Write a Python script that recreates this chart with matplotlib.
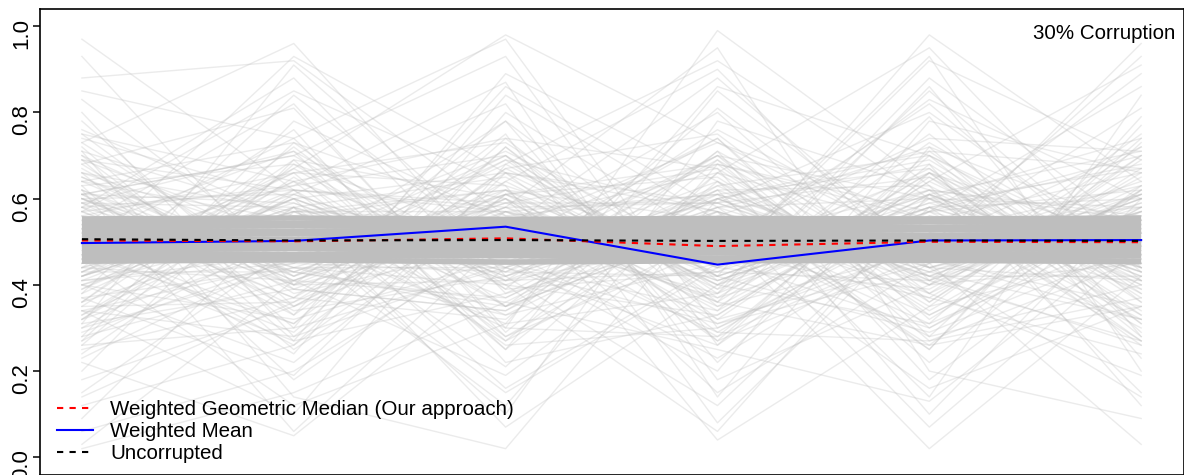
import matplotlib
matplotlib.use("Agg")
import matplotlib.pyplot as plt

plt.rcParams['font.family'] = ['Liberation Sans', 'DejaVu Sans']

# позиции по оси x (6 точек)
steps = [1, 2, 3, 4, 5, 6]

# испорченные (случайные) траектории, разброс по всему [0, 1]
wide_runs = [
    [0.97, 0.62, 0.35, 0.71, 0.18, 0.55],
    [0.93, 0.40, 0.78, 0.22, 0.66, 0.31],
    [0.88, 0.92, 0.56, 0.47, 0.83, 0.60],
    [0.85, 0.74, 0.97, 0.30, 0.52, 0.89],
    [0.80, 0.28, 0.64, 0.90, 0.41, 0.72],
    [0.76, 0.55, 0.21, 0.66, 0.95, 0.44],
    [0.73, 0.96, 0.42, 0.12, 0.58, 0.27],
    [0.70, 0.33, 0.86, 0.58, 0.25, 0.79],
    [0.68, 0.81, 0.30, 0.99, 0.63, 0.15],
    [0.65, 0.45, 0.70, 0.38, 0.88, 0.52],
    [0.63, 0.18, 0.52, 0.80, 0.36, 0.67],
    [0.61, 0.70, 0.93, 0.26, 0.71, 0.38],
    [0.58, 0.88, 0.38, 0.62, 0.14, 0.84],
    [0.56, 0.37, 0.75, 0.08, 0.56, 0.46],
    [0.42, 0.66, 0.25, 0.85, 0.47, 0.96],
    [0.40, 0.22, 0.61, 0.34, 0.79, 0.23],
    [0.38, 0.84, 0.47, 0.70, 0.30, 0.58],
    [0.36, 0.52, 0.15, 0.44, 0.92, 0.69],
    [0.34, 0.10, 0.68, 0.92, 0.60, 0.33],
    [0.32, 0.61, 0.82, 0.18, 0.40, 0.75],
    [0.30, 0.44, 0.33, 0.57, 0.07, 0.49],
    [0.28, 0.78, 0.55, 0.28, 0.68, 0.12],
    [0.26, 0.30, 0.89, 0.64, 0.22, 0.62],
    [0.24, 0.58, 0.07, 0.40, 0.75, 0.36],
    [0.22, 0.05, 0.44, 0.76, 0.50, 0.81],
    [0.20, 0.69, 0.27, 0.52, 0.02, 0.42],
    [0.18, 0.35, 0.60, 0.15, 0.45, 0.03],
    [0.15, 0.49, 0.12, 0.68, 0.33, 0.57],
    [0.12, 0.26, 0.72, 0.36, 0.86, 0.28],
    [0.09, 0.57, 0.40, 0.06, 0.61, 0.71],
    [0.06, 0.20, 0.50, 0.74, 0.28, 0.40],
    [0.03, 0.41, 0.19, 0.55, 0.38, 0.19],
    [0.02, 0.15, 0.36, 0.25, 0.13, 0.52],
    [0.47, 0.93, 0.66, 0.42, 0.98, 0.64],
    [0.71, 0.14, 0.02, 0.60, 0.42, 0.26],
    [0.60, 0.39, 0.58, 0.95, 0.20, 0.09],
    [0.44, 0.76, 0.22, 0.33, 0.64, 0.91],
    [0.53, 0.24, 0.80, 0.50, 0.16, 0.35],
    [0.66, 0.50, 0.46, 0.20, 0.78, 0.66],
    [0.35, 0.67, 0.98, 0.73, 0.55, 0.30],
    [0.46, 0.12, 0.31, 0.86, 0.70, 0.47],
    [0.57, 0.85, 0.63, 0.04, 0.35, 0.70],
    [0.39, 0.60, 0.16, 0.45, 0.93, 0.20],
    [0.50, 0.31, 0.74, 0.67, 0.10, 0.60],
    [0.62, 0.06, 0.51, 0.29, 0.57, 0.86],
    [0.27, 0.73, 0.39, 0.81, 0.44, 0.14],
    [0.83, 0.46, 0.69, 0.37, 0.66, 0.50],
    [0.14, 0.36, 0.57, 0.61, 0.25, 0.77],
    [0.75, 0.64, 0.28, 0.49, 0.82, 0.41],
    [0.31, 0.91, 0.48, 0.23, 0.52, 0.63],
    [0.69, 0.27, 0.84, 0.55, 0.37, 0.24],
    [0.45, 0.53, 0.10, 0.78, 0.62, 0.55],
    [0.59, 0.71, 0.44, 0.31, 0.49, 0.93],
    [0.37, 0.19, 0.66, 0.59, 0.80, 0.45],
    [0.54, 0.82, 0.29, 0.69, 0.27, 0.37],
    [0.23, 0.47, 0.78, 0.41, 0.58, 0.68],
    [0.78, 0.35, 0.53, 0.88, 0.46, 0.32],
    [0.49, 0.63, 0.87, 0.14, 0.72, 0.53],
    [0.64, 0.43, 0.35, 0.53, 0.31, 0.74],
    [0.33, 0.56, 0.62, 0.39, 0.85, 0.43],
]

# траектории со средним разбросом
mid_runs = [
    [0.62, 0.41, 0.58, 0.36, 0.66, 0.44],
    [0.38, 0.60, 0.43, 0.69, 0.40, 0.63],
    [0.66, 0.57, 0.37, 0.61, 0.46, 0.35],
    [0.34, 0.45, 0.68, 0.42, 0.59, 0.67],
    [0.59, 0.35, 0.62, 0.55, 0.33, 0.58],
    [0.43, 0.67, 0.40, 0.33, 0.64, 0.41],
    [0.70, 0.48, 0.55, 0.66, 0.38, 0.61],
    [0.31, 0.39, 0.34, 0.58, 0.68, 0.37],
    [0.57, 0.63, 0.70, 0.39, 0.57, 0.70],
    [0.40, 0.32, 0.46, 0.64, 0.35, 0.47],
    [0.64, 0.55, 0.33, 0.45, 0.62, 0.56],
    [0.36, 0.69, 0.60, 0.31, 0.43, 0.32],
    [0.68, 0.38, 0.49, 0.68, 0.55, 0.66],
    [0.42, 0.58, 0.65, 0.40, 0.31, 0.52],
    [0.55, 0.43, 0.36, 0.60, 0.69, 0.39],
    [0.33, 0.62, 0.57, 0.35, 0.48, 0.64],
    [0.61, 0.34, 0.42, 0.63, 0.40, 0.45],
    [0.45, 0.66, 0.63, 0.47, 0.66, 0.33],
    [0.69, 0.51, 0.31, 0.38, 0.58, 0.60],
    [0.37, 0.44, 0.59, 0.67, 0.36, 0.69],
    [0.60, 0.61, 0.45, 0.34, 0.61, 0.42],
    [0.35, 0.36, 0.66, 0.57, 0.44, 0.57],
    [0.63, 0.68, 0.39, 0.43, 0.67, 0.36],
    [0.41, 0.47, 0.61, 0.65, 0.34, 0.62],
    [0.67, 0.40, 0.52, 0.37, 0.52, 0.48],
    [0.32, 0.65, 0.35, 0.62, 0.63, 0.38],
    [0.58, 0.33, 0.67, 0.44, 0.39, 0.65],
    [0.44, 0.59, 0.41, 0.70, 0.60, 0.43],
    [0.65, 0.42, 0.60, 0.32, 0.45, 0.59],
    [0.39, 0.64, 0.48, 0.59, 0.65, 0.34],
    [0.27, 0.52, 0.71, 0.46, 0.30, 0.55],
    [0.72, 0.30, 0.44, 0.26, 0.60, 0.74],
    [0.50, 0.74, 0.28, 0.56, 0.72, 0.29],
    [0.29, 0.46, 0.53, 0.73, 0.49, 0.61],
    [0.74, 0.60, 0.66, 0.29, 0.27, 0.46],
    [0.46, 0.27, 0.38, 0.51, 0.74, 0.71],
    [0.53, 0.71, 0.25, 0.64, 0.41, 0.27],
    [0.25, 0.37, 0.64, 0.40, 0.56, 0.50],
    [0.71, 0.56, 0.47, 0.74, 0.32, 0.62],
    [0.48, 0.29, 0.72, 0.32, 0.65, 0.40],
    [0.36, 0.72, 0.35, 0.53, 0.28, 0.73],
    [0.60, 0.46, 0.62, 0.27, 0.70, 0.31],
    [0.30, 0.58, 0.27, 0.66, 0.53, 0.58],
    [0.66, 0.25, 0.57, 0.48, 0.37, 0.66],
    [0.43, 0.64, 0.74, 0.35, 0.61, 0.26],
    [0.57, 0.37, 0.32, 0.71, 0.44, 0.54],
    [0.26, 0.68, 0.51, 0.38, 0.73, 0.45],
    [0.73, 0.42, 0.69, 0.57, 0.26, 0.35],
    [0.40, 0.53, 0.30, 0.28, 0.50, 0.72],
    [0.64, 0.73, 0.56, 0.61, 0.67, 0.28],
    [0.34, 0.28, 0.45, 0.70, 0.42, 0.60],
    [0.56, 0.66, 0.73, 0.42, 0.29, 0.49],
    [0.28, 0.41, 0.37, 0.60, 0.71, 0.67],
    [0.69, 0.62, 0.26, 0.30, 0.55, 0.39],
    [0.47, 0.31, 0.67, 0.75, 0.38, 0.70],
    [0.61, 0.70, 0.41, 0.50, 0.62, 0.27],
    [0.32, 0.49, 0.70, 0.27, 0.47, 0.56],
    [0.75, 0.39, 0.34, 0.63, 0.70, 0.44],
    [0.42, 0.57, 0.55, 0.36, 0.26, 0.63],
    [0.52, 0.26, 0.61, 0.68, 0.57, 0.32],
]

# траектории рядом с полосой
near_runs = [
    [0.42, 0.58, 0.44, 0.60, 0.41, 0.57],
    [0.59, 0.43, 0.61, 0.42, 0.58, 0.44],
    [0.44, 0.41, 0.57, 0.45, 0.61, 0.43],
    [0.61, 0.59, 0.42, 0.58, 0.43, 0.60],
    [0.41, 0.45, 0.43, 0.62, 0.44, 0.41],
    [0.58, 0.62, 0.59, 0.41, 0.57, 0.62],
    [0.43, 0.60, 0.41, 0.43, 0.60, 0.58],
    [0.60, 0.42, 0.58, 0.59, 0.42, 0.42],
    [0.40, 0.57, 0.62, 0.44, 0.59, 0.45],
    [0.62, 0.44, 0.40, 0.57, 0.40, 0.59],
    [0.45, 0.61, 0.45, 0.61, 0.45, 0.61],
    [0.57, 0.40, 0.60, 0.40, 0.62, 0.40],
    [0.43, 0.43, 0.59, 0.59, 0.43, 0.57],
    [0.59, 0.58, 0.43, 0.42, 0.58, 0.43],
    [0.41, 0.60, 0.42, 0.57, 0.42, 0.60],
    [0.61, 0.41, 0.61, 0.44, 0.61, 0.42],
    [0.44, 0.57, 0.57, 0.41, 0.57, 0.44],
    [0.58, 0.44, 0.44, 0.60, 0.44, 0.58],
    [0.42, 0.62, 0.58, 0.43, 0.41, 0.61],
    [0.60, 0.40, 0.41, 0.58, 0.60, 0.41],
]

# неиспорченные траектории - плотная полоса около 0.5
band_runs = [
    [0.455, 0.458, 0.453, 0.456, 0.457, 0.454],
    [0.463, 0.466, 0.468, 0.462, 0.465, 0.467],
    [0.472, 0.470, 0.475, 0.474, 0.471, 0.473],
    [0.481, 0.484, 0.480, 0.483, 0.482, 0.485],
    [0.490, 0.489, 0.492, 0.488, 0.491, 0.490],
    [0.499, 0.501, 0.498, 0.500, 0.502, 0.499],
    [0.508, 0.506, 0.510, 0.509, 0.507, 0.508],
    [0.517, 0.519, 0.516, 0.518, 0.515, 0.518],
    [0.526, 0.524, 0.527, 0.525, 0.528, 0.526],
    [0.535, 0.537, 0.534, 0.536, 0.533, 0.536],
    [0.544, 0.542, 0.545, 0.543, 0.546, 0.544],
    [0.553, 0.555, 0.552, 0.554, 0.553, 0.555],
]

# агрегаты
geo_median = [0.503, 0.501, 0.508, 0.490, 0.500, 0.499]
weighted_mean = [0.497, 0.502, 0.535, 0.447, 0.503, 0.504]
uncorrupted = [0.506, 0.503, 0.504, 0.502, 0.503, 0.502]

labels = ['Weighted Geometric Median (Our approach)', 'Weighted Mean', 'Uncorrupted']
title_text = '30% Corruption'

fig = plt.figure(figsize=(11.84, 4.75), dpi=100)
ax = fig.add_axes([0.0334, 0.001, 0.9662, 0.98])

# серые линии
for run in wide_runs + mid_runs + near_runs:
    ax.plot(steps, run, color='#BEBEBE', alpha=0.3, lw=1.0)
for run in band_runs:
    ax.plot(steps, run, color='#BEBEBE', lw=4.0, solid_capstyle='butt')

# цветные линии
ax.plot(steps, weighted_mean, color='#0000FF', lw=1.5, label=labels[1])
ax.plot(steps, geo_median, color='#FF0000', lw=1.5, ls=(0, (3, 3)), label=labels[0])
ax.plot(steps, uncorrupted, color='black', lw=1.5, ls=(0, (3, 3)), label=labels[2])

ax.set_xlim(0.8, 6.2)
ax.set_ylim(-0.04, 1.04)
ax.set_xticks([])
ax.set_yticks([0.0, 0.2, 0.4, 0.6, 0.8, 1.0])
ax.set_yticklabels(['0.0', '0.2', '0.4', '0.6', '0.8', '1.0'])
ax.tick_params(axis='y', labelrotation=90, labelsize=16, length=5, width=1.1, pad=0.5)
for s in ax.spines.values():
    s.set_linewidth(1.2)

ax.text(0.9926, 0.948, title_text, transform=ax.transAxes, ha='right', va='center', fontsize=14.8)

handles, labs = ax.get_legend_handles_labels()
order = [1, 0, 2]
ax.legend([handles[i] for i in order], [labs[i] for i in order], loc='lower left',
          bbox_to_anchor=(0.0153, 0.0245), frameon=False, fontsize=14.8,
          handlelength=1.76, handletextpad=0.83, labelspacing=0.15,
          borderpad=0, borderaxespad=0)

plt.savefig('out.png', dpi=100)
